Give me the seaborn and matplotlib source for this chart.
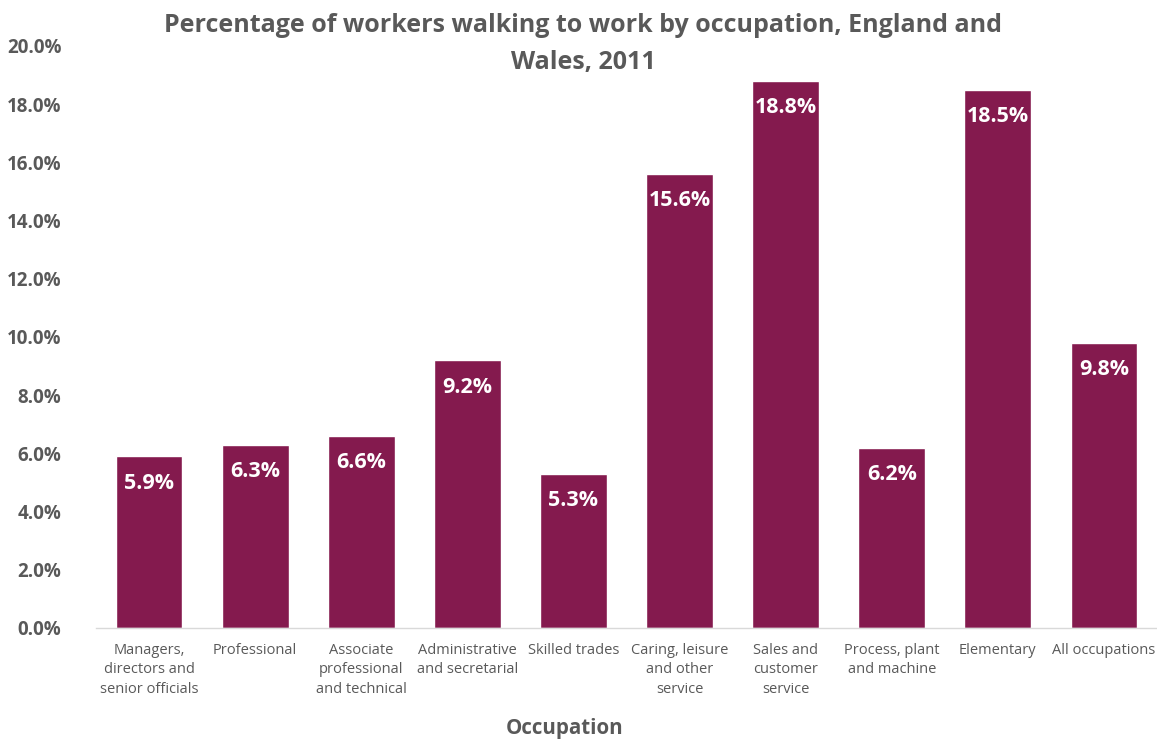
import matplotlib
matplotlib.use("Agg")
import matplotlib.pyplot as plt
import seaborn as sns
import pandas as pd
from matplotlib.ticker import FuncFormatter

categories = [
    "Managers,\ndirectors and\nsenior officials",
    "Professional",
    "Associate\nprofessional\nand technical",
    "Administrative\nand secretarial",
    "Skilled trades",
    "Caring, leisure\nand other\nservice",
    "Sales and\ncustomer\nservice",
    "Process, plant\nand machine",
    "Elementary",
    "All occupations",
]
values = [5.9, 6.3, 6.6, 9.2, 5.3, 15.6, 18.8, 6.2, 18.5, 9.8]
y_ticks = [0, 2, 4, 6, 8, 10, 12, 14, 16, 18, 20]

BAR = "#841A4E"
GRAY = "#595959"
FONT = ["Open Sans", "DejaVu Sans"]

sns.set_theme(style="white")
plt.rcParams["font.family"] = FONT

df = pd.DataFrame({"Occupation": categories, "Value": values})

fig = plt.figure(figsize=(11.57, 7.40), dpi=100)
ax = fig.add_axes([0.083, 0.1514, 0.917, 0.7865])
sns.barplot(data=df, x="Occupation", y="Value", color=BAR, saturation=1,
            width=0.63, ax=ax)

ax.set_ylim(0, 20)
ax.set_yticks(y_ticks)
ax.yaxis.set_major_formatter(FuncFormatter(lambda v, p: f"{v:.1f}%"))
for lab in ax.get_yticklabels():
    lab.set_fontweight("bold")
ax.tick_params(axis="y", labelsize=13.5, colors=GRAY, length=0, pad=25)
ax.tick_params(axis="x", labelsize=10.5, colors=GRAY, length=0, pad=11)
for lab in ax.get_xticklabels():
    lab.set_linespacing(1.38)

for s in ["top", "right", "left"]:
    ax.spines[s].set_visible(False)
ax.spines["bottom"].set_color("#D9D9D9")
ax.spines["bottom"].set_linewidth(1)

for p, v in zip(ax.patches, values):
    ax.annotate(f"{v:.1f}%", (p.get_x() + p.get_width() / 2, p.get_height()),
                xytext=(0, -27), textcoords="offset pixels",
                ha="center", va="center", color="white", fontsize=15.5,
                fontweight="bold")

ax.set_xlabel("Occupation", fontsize=14.8, fontweight="bold", color=GRAY, labelpad=20)
ax.xaxis.set_label_coords(0.442, -0.155)
ax.set_ylabel("")
fig.suptitle("Percentage of workers walking to work by occupation, England and\nWales, 2011",
             x=0.504, y=0.983, fontsize=18, fontweight="bold", color=GRAY,
             linespacing=1.68, va="top")

fig.savefig("out.png", dpi=100, facecolor="white")
